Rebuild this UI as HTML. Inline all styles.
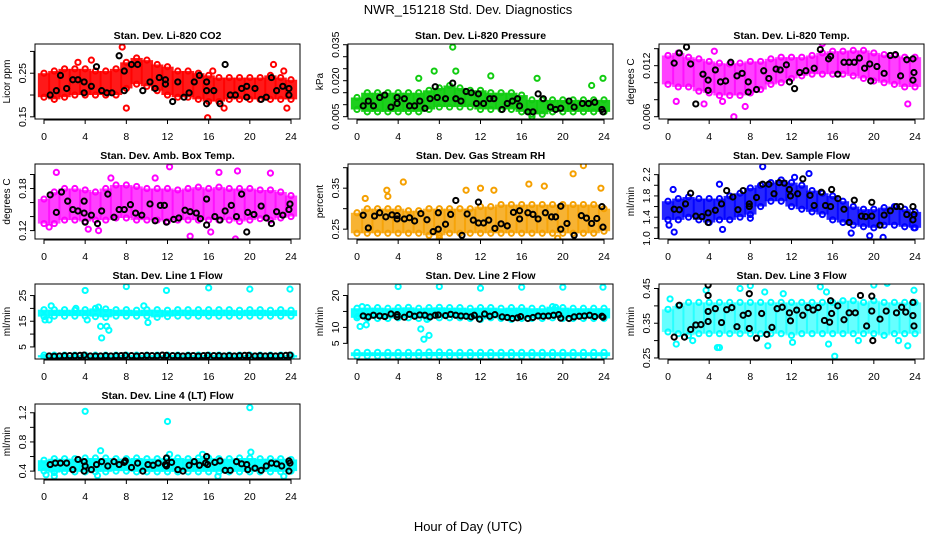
<!DOCTYPE html>
<html><head><meta charset="utf-8"><style>
body{margin:0;background:#fff}
svg{display:block;font-family:"Liberation Sans",sans-serif}
</style></head><body>
<svg id="chart" width="936" height="540" viewBox="0 0 936 540">
<text x="468" y="14" font-size="13" text-anchor="middle">NWR_151218  Std. Dev. Diagnostics</text>
<text x="468" y="531" font-size="13" text-anchor="middle">Hour of Day (UTC)</text>
</svg>
<script>
const xTicks=[0,4,8,12,16,20,24];
// Panel 1: CO2
const hi1=[0.25,0.255,0.26,0.26,0.26,0.255,0.255,0.26,0.275,0.285,0.28,0.27,0.265,0.255,0.255,0.25,0.245,0.24,0.24,0.24,0.24,0.24,0.245,0.24,0.235];
const lo1=[0.195,0.19,0.195,0.2,0.2,0.2,0.2,0.2,0.215,0.225,0.22,0.21,0.2,0.195,0.195,0.19,0.185,0.185,0.19,0.19,0.19,0.19,0.19,0.19,0.19];
const out1=[[3.3,0.275],[4.6,0.28],[7.6,0.31],[8,0.17],[15.9,0.148],[17.5,0.17],[22.3,0.27],[23.3,0.255],[23.6,0.17],[16.4,0.255]];
const blk1=[[0.6,0.2],[1.2,0.21],[1.6,0.245],[2.2,0.215],[2.8,0.235],[3.3,0.235],[3.9,0.205],[3.9,0.23],[4.6,0.22],[5.1,0.265],[5.6,0.21],[6.1,0.205],[6.6,0.205],[7.3,0.29],[7.8,0.255],[7.8,0.21],[8.5,0.27],[9.1,0.27],[9.6,0.21],[10.3,0.23],[10.8,0.215],[11.2,0.24],[11.8,0.235],[11.8,0.225],[12.5,0.185],[13,0.23],[13.6,0.195],[14.1,0.205],[14.6,0.23],[15.1,0.245],[15.8,0.23],[15.8,0.21],[15.8,0.18],[16.5,0.21],[17.1,0.18],[17.6,0.27],[18.1,0.2],[18.6,0.2],[19.2,0.215],[19.7,0.22],[19.7,0.195],[20.5,0.215],[21.1,0.19],[21.6,0.195],[22.1,0.24],[22.6,0.21],[23.2,0.22],[23.8,0.215],[23.8,0.2]];
// Panel 2: Pressure
const hi2=[0.013,0.015,0.015,0.015,0.015,0.015,0.015,0.016,0.017,0.018,0.017,0.016,0.016,0.015,0.015,0.015,0.014,0.012,0.012,0.012,0.012,0.012,0.012,0.012,0.012];
const lo2=[0.008,0.007,0.007,0.007,0.007,0.007,0.007,0.008,0.009,0.009,0.009,0.009,0.008,0.008,0.008,0.008,0.007,0.006,0.006,0.007,0.007,0.007,0.007,0.007,0.007];
const out2=[[6,0.021],[7.5,0.024],[9.3,0.034],[9.6,0.024],[13,0.022],[17.5,0.021],[23.9,0.021],[17,0.005],[22.8,0.018]];
const blk2=[[0.6,0.0095],[1.1,0.0115],[1.6,0.0095],[2.2,0.013],[2.7,0.014],[3.3,0.009],[3.9,0.013],[3.9,0.0105],[4.6,0.0125],[5.1,0.0095],[5.6,0.0095],[6.1,0.0115],[6.6,0.0085],[7.1,0.0125],[7.6,0.0175],[7.8,0.013],[8.6,0.0125],[9.3,0.019],[9.6,0.0125],[10.1,0.0115],[10.6,0.0155],[11.1,0.015],[11.6,0.0105],[11.8,0.0145],[12.3,0.0105],[12.9,0.0125],[13.3,0.0125],[14.1,0.008],[14.6,0.0105],[15.1,0.0115],[15.6,0.0125],[15.8,0.0095],[16.6,0.007],[17.1,0.007],[17.6,0.0145],[18.1,0.0125],[18.8,0.009],[19.3,0.008],[19.8,0.0085],[20.6,0.0115],[21.1,0.009],[21.9,0.0105],[22.5,0.0105],[23.1,0.011],[23.8,0.008],[23.9,0.007]];
// Panel 3: Temp
const hi3=[0.0132,0.0135,0.013,0.0128,0.0125,0.0123,0.0122,0.0123,0.0125,0.0125,0.0128,0.013,0.013,0.013,0.0132,0.0135,0.0137,0.0137,0.0138,0.0138,0.0135,0.0133,0.0132,0.013,0.013];
const lo3=[0.0098,0.0095,0.0095,0.009,0.0088,0.0085,0.0085,0.0085,0.0088,0.0092,0.0098,0.01,0.0105,0.0108,0.011,0.011,0.011,0.011,0.0108,0.0105,0.0102,0.01,0.0098,0.0095,0.0095];
const out3=[[6.4,0.006],[4.5,0.0137],[15,0.0146],[0.8,0.0078],[3.5,0.0075],[23.3,0.0075],[5.3,0.0078],[7.5,0.0072]];
const blk3=[[0.6,0.0123],[1.1,0.0135],[1.8,0.0142],[2.2,0.0122],[2.7,0.0075],[3.4,0.011],[3.9,0.0103],[3.9,0.0091],[4.6,0.0115],[5.1,0.0101],[5.6,0.0102],[6.1,0.0124],[6.7,0.0108],[7.2,0.0111],[7.8,0.0101],[7.8,0.0089],[8.6,0.0092],[9.3,0.0114],[9.8,0.0105],[10.5,0.0116],[10.9,0.0115],[11.5,0.0121],[11.8,0.0101],[12.3,0.0093],[12.8,0.0112],[13.4,0.0114],[14.2,0.0117],[14.8,0.0139],[15.6,0.0128],[15.8,0.0131],[16.5,0.011],[17.1,0.0124],[17.6,0.0124],[18.1,0.0124],[18.6,0.0129],[19.1,0.0117],[19.6,0.0122],[19.7,0.0102],[20.3,0.0119],[21,0.0111],[21.6,0.0132],[22.1,0.0133],[22.6,0.0108],[23.2,0.0127],[23.8,0.0128],[23.9,0.0112],[23.8,0.0103]];
// Panel 4: Amb box temp
const hi4=[0.165,0.175,0.18,0.18,0.178,0.175,0.18,0.185,0.185,0.183,0.18,0.18,0.18,0.178,0.18,0.182,0.18,0.182,0.18,0.18,0.18,0.178,0.178,0.175,0.17];
const lo4=[0.13,0.13,0.135,0.135,0.133,0.135,0.135,0.138,0.138,0.135,0.135,0.135,0.133,0.135,0.135,0.135,0.135,0.135,0.135,0.133,0.135,0.137,0.135,0.138,0.14];
const out4=[[1.2,0.203],[18.8,0.205],[12.2,0.211],[14.2,0.112],[18.6,0.108],[0.5,0.125],[4.3,0.122],[5.3,0.12],[16.2,0.118],[17,0.203],[22,0.202],[6.5,0.195],[10.8,0.195]];
const blk4=[[0.6,0.171],[1.2,0.146],[1.7,0.175],[2.3,0.162],[2.8,0.15],[3.3,0.148],[3.9,0.162],[3.9,0.145],[4,0.132],[4.6,0.142],[5.2,0.13],[5.6,0.148],[6.2,0.172],[6.8,0.139],[7.3,0.15],[7.8,0.15],[8.4,0.157],[8.9,0.145],[9.5,0.142],[10.3,0.158],[10.8,0.134],[11.3,0.156],[11.7,0.156],[11.9,0.132],[12.6,0.136],[13.1,0.138],[13.7,0.149],[14.2,0.147],[14.8,0.145],[15.2,0.137],[15.8,0.165],[15.8,0.128],[16.6,0.14],[17.1,0.135],[17.6,0.148],[18.2,0.156],[18.7,0.14],[19.2,0.172],[19.8,0.146],[19.7,0.118],[20.4,0.143],[21.1,0.155],[21.6,0.138],[22.1,0.13],[22.6,0.147],[23.2,0.142],[23.8,0.15],[23.9,0.158]];
// Panel 5: RH
const hi5=[0.29,0.3,0.3,0.3,0.3,0.295,0.295,0.3,0.3,0.3,0.3,0.3,0.305,0.305,0.31,0.31,0.31,0.31,0.31,0.31,0.31,0.31,0.31,0.31,0.3];
const lo5=[0.24,0.24,0.24,0.24,0.24,0.24,0.24,0.235,0.235,0.24,0.24,0.24,0.24,0.24,0.24,0.24,0.24,0.24,0.24,0.24,0.24,0.24,0.24,0.24,0.245];
const out5=[[4.5,0.365],[2.9,0.345],[10.6,0.345],[12,0.35],[13.3,0.345],[16.7,0.36],[18.2,0.355],[21,0.385],[22,0.405],[23.7,0.35],[19.5,0.228],[8,0.228],[0.8,0.325],[3,0.33]];
const blk5=[[0.6,0.284],[1.1,0.253],[1.7,0.282],[2.2,0.29],[2.8,0.28],[3.4,0.285],[3.9,0.275],[3.9,0.283],[4.6,0.275],[5.1,0.278],[5.6,0.27],[6.2,0.288],[6.8,0.273],[7.4,0.244],[7.9,0.29],[7.9,0.25],[8.6,0.262],[9.1,0.286],[9.6,0.32],[10.2,0.235],[10.7,0.287],[11.3,0.272],[11.8,0.265],[11.8,0.316],[12.3,0.265],[12.8,0.272],[13.4,0.252],[14,0.263],[14.6,0.258],[15.2,0.291],[15.8,0.275],[15.8,0.295],[16.6,0.29],[17.1,0.286],[17.6,0.275],[18.3,0.29],[18.9,0.28],[19.3,0.28],[19.8,0.306],[19.8,0.25],[20.4,0.264],[21.1,0.235],[21.8,0.283],[22.3,0.277],[22.8,0.264],[23.3,0.276],[23.8,0.305],[23.9,0.255]];
// Panel 6: Sample flow
const hi6=[1.7,1.75,1.78,1.75,1.75,1.75,1.8,1.85,1.95,2.0,2.05,2.1,2.05,2.0,1.9,1.85,1.8,1.7,1.6,1.55,1.55,1.58,1.6,1.55,1.5];
const lo6=[1.35,1.35,1.4,1.35,1.3,1.35,1.35,1.4,1.45,1.6,1.7,1.7,1.6,1.55,1.5,1.45,1.35,1.3,1.25,1.22,1.2,1.25,1.25,1.22,1.2];
const out6=[[0.1,1.25],[0.6,1.12],[0.5,1.92],[5,2.02],[5.3,1.17],[9.2,2.35],[13.7,2.22],[12.3,2.15],[19.6,1.05],[20.9,1.02],[17.8,1.1],[23.9,1.2],[8,1.38]];
const blk6=[[0.6,1.55],[1.1,1.54],[1.7,1.65],[2.2,1.85],[2.7,1.42],[3.3,1.41],[3.9,1.48],[3.9,1.3],[4.6,1.53],[5.2,1.65],[5.7,1.9],[6.3,1.78],[6.8,1.54],[7.3,1.9],[7.9,1.65],[7.9,1.6],[8.6,1.77],[9.2,2.02],[9.8,2.02],[10.3,1.84],[10.8,2.05],[11.3,2.04],[11.8,1.92],[11.9,1.8],[12.6,1.84],[13.1,2.12],[13.8,1.81],[14.2,1.62],[14.9,1.87],[15.3,1.62],[15.8,1.6],[15.9,1.92],[16.5,1.75],[17.1,1.55],[17.6,1.3],[18.1,1.72],[18.8,1.42],[19.2,1.41],[19.8,1.68],[19.8,1.42],[20.6,1.25],[21,1.44],[21.6,1.52],[22.2,1.6],[22.6,1.6],[23.2,1.45],[23.8,1.6],[23.8,1.35],[23.9,1.45]];
// Panel 7: Line 1 flow
const hi7=[19.5,19.5,19.5,19.3,19.5,20,19.8,19.5,19.5,19.3,19.5,19.5,19.3,19.5,19.5,19.5,19.5,19.5,19.5,19.3,19.5,19.5,19.3,19.5,19.3];
const lo7=[16.8,17,17,17,17,16.8,16.5,17,17,17,17,16.5,16.8,17,17,17,17,17,17,17,17,17,17,17,17];
const hiB7=[1.8,1.8,1.8,1.8,1.8,1.8,1.8,1.8,1.8,1.8,1.8,1.8,1.8,1.8,1.8,1.8,1.8,1.8,1.8,1.8,1.8,1.8,1.8,1.8,1.8];
const loB7=[0.9,0.9,0.9,0.9,0.9,0.9,0.9,0.9,0.9,0.9,0.9,0.9,0.9,0.9,0.9,0.9,0.9,0.9,0.9,0.9,0.9,0.9,0.9,0.9,0.9];
const out7=[[0.1,15.5],[0.7,21],[4,27],[4.2,15.5],[5.3,20.5],[5.5,13],[5.6,8.5],[6.1,13],[6.3,11.5],[8,28.5],[9.7,21],[10.1,14.5],[11.9,27],[16,28],[20,27.5],[23.9,27.5],[3.1,20],[0.5,15.5]];
const blk7=[[0.5,1.5],[1,1.4],[1.5,1.5],[2,1.6],[2.5,1.6],[3,1.6],[3.5,1.7],[3.9,1.8],[4.5,1.5],[5,1.5],[5.5,1.5],[6,1.6],[6.5,1.5],[7,1.6],[7.5,1.6],[7.9,1.7],[8.5,1.6],[9,1.5],[9.5,1.6],[10,1.7],[10.5,1.6],[11,1.6],[11.5,1.8],[11.9,1.7],[12.5,1.6],[13,1.6],[13.5,1.5],[14,1.6],[14.5,1.6],[15,1.5],[15.5,1.6],[15.9,1.7],[16.5,1.6],[17,1.6],[17.5,1.5],[18,1.6],[18.5,1.5],[19,1.6],[19.5,1.7],[19.9,1.7],[20.5,1.5],[21,1.6],[21.5,1.5],[22,1.6],[22.5,1.5],[23,1.6],[23.5,1.7],[23.9,1.8]];
// Panel 8: Line 2 flow
const hi8=[16,16.2,16.2,16,16.2,16.3,16,16.2,16.3,16.2,16.2,16,16.2,16.2,16,16.2,16.2,16,16,16.5,16.2,16,16,16,16];
const lo8=[13,12.8,12.8,12.8,13,13,12.8,13,13,13,13,12.8,12.5,13,12.8,12.5,12.8,12.8,12.8,13,12.8,12.8,12.8,12.8,12.8];
const hiB8=[2.2,2.2,2.2,2.2,2.2,2.2,2.2,2.3,2.3,2.2,2.2,2.2,2.2,2.2,2.2,2.2,2.2,2.2,2.2,2.2,2.2,2.2,2.2,2.2,2.2];
const loB8=[1,1,1,1,1,1,1,1,1,1,1,1,1,1,1,1,1,1,1,1,1,1,1,1,1];
const out8=[[0.1,13.5],[0.3,10.3],[0.5,16.5],[0.9,10.8],[4,22.8],[8,22.8],[12,22.3],[16,22.6],[20,22.6],[23.9,22.6],[6.2,9.5],[6.5,6.3],[7,7.5],[19.3,16.3],[6.8,12.5]];
const blk8=[[0.6,13.6],[1.1,13.3],[1.6,13.8],[2.2,13.6],[2.7,13.4],[3.3,14.2],[3.9,14],[3.9,13.3],[4.6,13.2],[5.1,14.1],[5.6,13.5],[6.1,13.9],[6.6,13.8],[7.1,13.3],[7.6,13.8],[7.9,13.9],[8.6,13.7],[9.1,14.1],[9.6,13.8],[10.1,13.6],[10.6,13.5],[11.1,13.3],[11.4,13.8],[11.9,12.6],[12.4,14.2],[12.9,13.5],[13.4,14],[14.1,13.3],[14.6,13.1],[15.1,12.8],[15.6,13],[15.9,13.4],[16.6,12.8],[17.1,13.1],[17.6,13.6],[18.1,13.5],[18.6,13.6],[19.1,13.8],[19.6,14],[19.8,12.9],[20.6,12.8],[21.1,13.3],[21.6,13.5],[22.1,13.6],[22.6,13.8],[23.1,13.4],[23.8,13.5],[23.9,13.2]];
// Panel 9: Line 3 flow
const hi9=[0.39,0.4,0.41,0.41,0.41,0.41,0.41,0.41,0.41,0.41,0.41,0.41,0.41,0.41,0.41,0.41,0.41,0.415,0.415,0.41,0.415,0.41,0.41,0.41,0.41];
const lo9=[0.325,0.32,0.315,0.32,0.32,0.32,0.32,0.32,0.32,0.32,0.32,0.32,0.315,0.32,0.32,0.32,0.32,0.32,0.32,0.32,0.32,0.315,0.32,0.32,0.32];
const out9=[[0.2,0.42],[0.8,0.29],[2.4,0.3],[3.7,0.445],[4.8,0.28],[5,0.28],[7,0.45],[8,0.458],[9.4,0.44],[9.7,0.285],[11.2,0.435],[14.8,0.455],[15.4,0.44],[15.6,0.29],[16.2,0.255],[18.5,0.3],[20,0.46],[21.3,0.465],[22.4,0.3],[23.3,0.285],[23.9,0.445],[12.1,0.295]];
const blk9=[[0.6,0.31],[1.1,0.402],[1.6,0.31],[2.2,0.332],[2.7,0.345],[3.2,0.346],[3.9,0.46],[3.9,0.43],[3.9,0.384],[3.9,0.355],[4.6,0.392],[5.2,0.352],[5.7,0.389],[6.2,0.395],[6.7,0.34],[7.3,0.373],[7.8,0.378],[7.9,0.435],[7.9,0.335],[8.6,0.307],[9.1,0.378],[9.6,0.318],[10.1,0.338],[10.6,0.392],[11.1,0.396],[11.8,0.38],[11.9,0.357],[12.5,0.388],[13.1,0.373],[13.6,0.395],[14.1,0.388],[14.6,0.395],[15.2,0.358],[15.7,0.353],[15.8,0.415],[15.9,0.378],[16.5,0.4],[17.1,0.36],[17.6,0.38],[18.2,0.38],[18.7,0.43],[19.3,0.342],[19.8,0.428],[19.8,0.385],[19.9,0.3],[20.6,0.362],[21.2,0.385],[22.2,0.38],[22.7,0.396],[23.1,0.382],[23.8,0.41],[23.8,0.372],[23.9,0.342]];
// Panel 10: Line 4 flow
const hi10=[0.55,0.57,0.57,0.57,0.58,0.58,0.58,0.57,0.57,0.58,0.57,0.57,0.58,0.58,0.57,0.58,0.58,0.57,0.57,0.58,0.58,0.57,0.57,0.57,0.56];
const lo10=[0.4,0.38,0.39,0.39,0.39,0.39,0.39,0.4,0.4,0.39,0.39,0.39,0.39,0.39,0.39,0.39,0.39,0.39,0.39,0.39,0.39,0.39,0.39,0.39,0.4];
const out10=[[4,1.22],[12,1.08],[20,1.27],[5.5,0.68],[20.1,0.66],[0.2,0.35],[1,0.33],[5.2,0.34],[16.9,0.33],[23.3,0.33],[15.4,0.63],[12.2,0.63]];
const blk10=[[0.6,0.49],[1.1,0.51],[1.6,0.51],[2.2,0.51],[2.8,0.42],[3.3,0.56],[3.9,0.53],[3.9,0.4],[4,0.47],[4.6,0.42],[5.1,0.49],[5.6,0.53],[6.2,0.47],[6.8,0.53],[7.3,0.49],[7.8,0.52],[7.9,0.54],[8.5,0.45],[9.1,0.51],[9.6,0.4],[10.1,0.49],[10.6,0.48],[11.1,0.51],[11.8,0.49],[11.9,0.58],[11.9,0.47],[12.4,0.52],[13,0.42],[13.5,0.4],[14.1,0.48],[14.6,0.53],[15.1,0.48],[15.7,0.51],[15.8,0.6],[15.9,0.49],[16.6,0.52],[17.1,0.54],[17.6,0.41],[18.1,0.41],[18.7,0.53],[19.2,0.5],[19.7,0.49],[19.8,0.42],[20.5,0.44],[21.1,0.41],[21.6,0.47],[22.1,0.51],[22.6,0.5],[23.1,0.47],[23.8,0.54],[23.8,0.4],[23.9,0.51]];

const NS="http://www.w3.org/2000/svg";
const svg=document.getElementById('chart');
function mk(tag,attrs,parent){const e=document.createElementNS(NS,tag);for(const k in attrs)e.setAttribute(k,attrs[k]);(parent||svg).appendChild(e);return e;}

const panels=[
 {t:"Stan. Dev. Li-820 CO2",yl:"Licor ppm",c:0,r:0,y0:0.145,y1:0.317,ticks:[0.15,0.2,0.25,0.3],labs:["0.15","","0.25",""],col:"#ff0000",bands:[[hi1,lo1]],out:out1,blk:blk1,op:0.9},
 {t:"Stan. Dev. Li-820 Pressure",yl:"kPa",c:1,r:0,y0:0.00403,y1:0.0353,ticks:[0.005,0.01,0.015,0.02,0.025,0.03,0.035],labs:["0.005","","","0.020","","","0.035"],col:"#11cc11",bands:[[hi2,lo2]],out:out2,blk:blk2,op:0.95},
 {t:"Stan. Dev. Li-820 Temp.",yl:"degrees C",c:2,r:0,y0:0.00573,y1:0.01455,ticks:[0.006,0.008,0.01,0.012,0.014],labs:["0.006","","","0.012",""],col:"#ff00ff",bands:[[hi3,lo3]],out:out3,blk:blk3,op:0.75},
 {t:"Stan. Dev. Amb. Box Temp.",yl:"degrees C",c:0,r:1,y0:0.108,y1:0.215,ticks:[0.12,0.14,0.16,0.18,0.2],labs:["0.12","","","0.18",""],col:"#ff00ff",bands:[[hi4,lo4]],out:out4,blk:blk4,op:0.75},
 {t:"Stan. Dev. Gas Stream RH",yl:"percent",c:1,r:1,y0:0.226,y1:0.409,ticks:[0.25,0.3,0.35,0.4],labs:["0.25","","0.35",""],col:"#f5a000",bands:[[hi5,lo5]],out:out5,blk:blk5,op:0.8},
 {t:"Stan. Dev. Sample Flow",yl:"ml/min",c:2,r:1,y0:0.99,y1:2.4,ticks:[1.0,1.2,1.4,1.6,1.8,2.0,2.2],labs:["1.0","","1.4","","1.8","","2.2"],col:"#0000ff",bands:[[hi6,lo6]],out:out6,blk:blk6,op:0.85},
 {t:"Stan. Dev. Line 1 Flow",yl:"ml/min",c:0,r:2,y0:0.3,y1:29.5,ticks:[5,10,15,20,25],labs:["5","","15","","25"],col:"#00ffff",bands:[[hi7,lo7],[hiB7,loB7]],out:out7,blk:blk7,op:0.95},
 {t:"Stan. Dev. Line 2 Flow",yl:"ml/min",c:1,r:2,y0:0.1,y1:23.6,ticks:[5,10,15,20],labs:["5","10","","20"],col:"#00ffff",bands:[[hi8,lo8],[hiB8,loB8]],out:out8,blk:blk8,op:0.95},
 {t:"Stan. Dev. Line 3 Flow",yl:"ml/min",c:2,r:2,y0:0.247,y1:0.463,ticks:[0.25,0.3,0.35,0.4,0.45],labs:["0.25","","0.35","","0.45"],col:"#00ffff",bands:[[hi9,lo9]],out:out9,blk:blk9,op:0.6},
 {t:"Stan. Dev. Line 4 (LT) Flow",yl:"ml/min",c:0,r:3,y0:0.292,y1:1.32,ticks:[0.4,0.6,0.8,1.0,1.2],labs:["0.4","","0.8","","1.2"],col:"#00ffff",bands:[[hi10,lo10]],out:out10,blk:blk10,op:0.95}
];
const colL=[35,348,659], W=265, H=75;

panels.forEach((p,pi)=>{
  const L=colL[p.c], T=44+p.r*120, B=T+H;
  const g=mk('g',{});
  
  
  const xs=h=>L+9+h*(W-18)/24;
  const ys=v=>B-(v-p.y0)/(p.y1-p.y0)*H;
  const clip=mk('clipPath',{id:'cp'+pi},g);
  mk('rect',{x:L,y:T,width:W,height:H},clip);
  const data=mk('g',{'clip-path':'url(#cp'+pi+')'},g);
  const step=(W-18)/24;
  p.bands.forEach(([hi,lo])=>{
    hi.forEach((v,i)=>{
      const yh=ys(v), yl=ys(lo[i]);
      const r=mk('rect',{x:xs(i)-step/2-1,y:yh,width:step+2,height:Math.max(1,yl-yh),fill:p.col,'fill-opacity':p.op},data);
      
      
      [v,lo[i]].forEach(val=>{
        const c=mk('circle',{cx:xs(i),cy:ys(val),r:2.6,fill:'none',stroke:p.col,'stroke-width':2},data);
        
        
      });
    });
  });
  p.out.forEach(([h,v])=>{
    const c=mk('circle',{cx:xs(h),cy:ys(v),r:2.6,fill:'none',stroke:p.col,'stroke-width':2},data);
    
    
  });
  p.blk.forEach(([h,v])=>{
    const c=mk('circle',{cx:xs(h),cy:ys(v),r:2.6,fill:'none',stroke:'#000','stroke-width':2},data);
    
    
  });
  mk('rect',{x:L,y:T,width:W,height:H,fill:'none',stroke:'#000','stroke-width':1},g);
  const tt=mk('text',{x:L+W/2,y:T-5,'font-size':10.5,'font-weight':'bold','text-anchor':'middle'},g);
  tt.textContent=p.t;
  
  
  const yl=mk('text',{transform:`translate(${L-25},${T+H/2}) rotate(-90)`,'font-size':10,'text-anchor':'middle'},g);
  yl.textContent=p.yl;
  
  
  mk('line',{x1:xs(0),x2:xs(24),y1:B+1,y2:B+1,stroke:'#000'},g);
  xTicks.forEach(h=>{
    mk('line',{x1:xs(h),x2:xs(h),y1:B,y2:B+5,stroke:'#000'},g);
    const t=mk('text',{x:xs(h),y:B+21,'font-size':10.5,'text-anchor':'middle'},g);
    t.textContent=h;
    
    
  });
  mk('line',{x1:L-1,x2:L-1,y1:ys(p.ticks[0]),y2:ys(p.ticks[p.ticks.length-1]),stroke:'#000'},g);
  p.ticks.forEach((v,i)=>{
    mk('line',{x1:L-5,x2:L,y1:ys(v),y2:ys(v),stroke:'#000'},g);
    const s=p.labs[i];
    if(s){
      const t=mk('text',{transform:`translate(${L-9},${ys(v)}) rotate(-90)`,'font-size':10.5,'text-anchor':'middle'},g);
      t.textContent=s;
      
      
    }
  });
});
</script>
</body></html>
